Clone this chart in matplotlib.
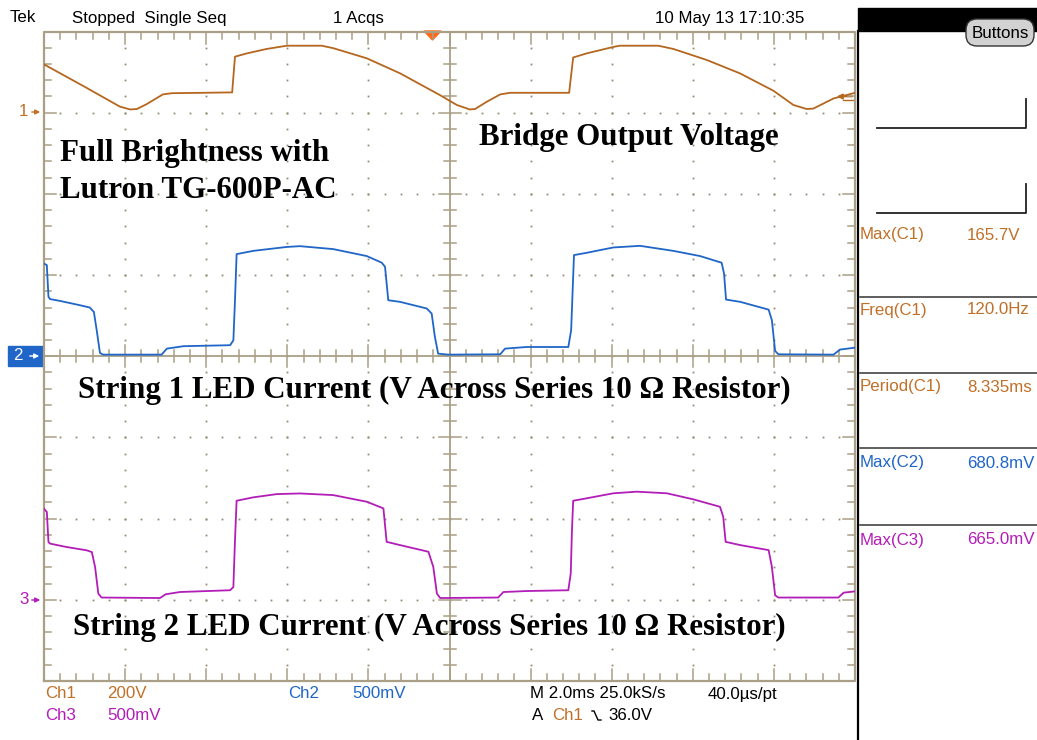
import matplotlib
matplotlib.use("Agg")
import matplotlib.pyplot as plt
from matplotlib.patches import Rectangle, Polygon, FancyBboxPatch
import numpy as np

# ---------------- data (read from the scope capture) ----------------
# time axis: 2.0 ms/div, 10 divisions -> 0..20 ms
ch1_t = [0.0, 1.0, 1.87, 2.12, 2.29, 2.53, 2.93, 3.15, 4.64, 4.71, 5.00, 5.49, 5.99, 6.85, 7.13,
         7.96, 8.78, 9.77, 10.18, 10.50, 10.63, 10.92, 11.25, 11.49, 12.95, 13.05, 13.38, 14.04,
         14.20, 15.15, 15.52, 16.34, 17.16, 17.99, 18.48, 18.81, 18.97, 19.47, 20.0]
ch1_v = [119, 64, 15, 8, 9, 21, 45, 48, 50, 138, 146, 157, 165, 165, 159,
         134, 97, 43, 19, 8, 9, 27, 45, 49, 49, 136, 146, 162,
         165, 165, 157, 130, 97, 54, 19, 9, 10, 35, 49]   # volts, 200 V/div

ch2_t = [0.0, 0.07, 0.11, 0.15, 0.39, 0.89, 1.13, 1.23, 1.30, 1.38, 1.46, 2.90, 3.03, 3.44, 4.59,
         4.67, 4.71, 4.75, 5.16, 5.98, 6.31, 7.13, 7.96, 8.33, 8.41, 8.49, 8.78, 9.44, 9.56, 9.64,
         9.72, 9.97, 11.25, 11.37, 11.90, 12.93, 13.00, 13.04, 13.07, 13.38, 14.04, 14.70, 15.52,
         16.18, 16.71, 16.77, 16.82, 17.17, 17.87, 17.95, 18.03, 18.11, 19.47, 19.63, 20.0]
ch2_mv = [571, 561, 366, 352, 341, 314, 300, 273, 160, 20, 10, 10, 47, 62, 68,
          98, 345, 629, 649, 673, 678, 660, 617, 576, 551, 345, 335, 294, 263, 119,
          16, 10, 12, 47, 57, 57, 160, 427, 623, 637, 670, 680, 649,
          617, 576, 510, 349, 335, 287, 222, 33, 12, 10, 41, 53]   # mV, 500 mV/div

ch3_t = [0.0, 0.07, 0.11, 0.15, 0.56, 1.05, 1.18, 1.26, 1.34, 1.42, 2.86, 3.00, 3.35, 4.59,
         4.67, 4.71, 4.75, 5.16, 5.74, 6.31, 7.13, 7.96, 8.37, 8.45, 8.78, 9.48, 9.60, 9.69,
         9.77, 11.20, 11.33, 11.90, 12.93, 12.99, 13.02, 13.05, 13.38, 14.04, 14.62, 15.36,
         16.01, 16.67, 16.75, 16.81, 17.17, 17.87, 17.95, 18.03, 18.11, 19.59, 19.72, 20.0]
ch3_mv = [561, 541, 356, 346, 325, 305, 294, 202, 38, 14, 11, 34, 48, 59,
          79, 367, 610, 631, 651, 655, 645, 604, 563, 357, 337, 296, 203, 38,
          11, 14, 48, 54, 59, 162, 429, 610, 625, 656, 666, 656,
          619, 573, 512, 357, 337, 306, 203, 28, 14, 14, 44, 52]   # mV, 500 mV/div

ch_scale = [200.0, 500.0, 500.0]     # units per division
ch_offset = [3.0, 0.0, -3.0]         # ground marker position in divisions

header_texts = ["Tek", "Stopped  Single Seq", "1 Acqs", "10 May 13 17:10:35"]
meas_names = ["Max(C1)", "Freq(C1)", "Period(C1)", "Max(C2)", "Max(C3)"]
meas_values = ["165.7V", "120.0Hz", "8.335ms", "680.8mV", "665.0mV"]

# ---------------- styling ----------------
W, H = 1037, 740
C1 = "#b5661f"
C1T = "#c07028"
C2 = "#1f66c8"
C3 = "#b21db8"
GRID = "#a99f86"
DOT = "#958b74"

fig = plt.figure(figsize=(W / 100, H / 100), dpi=100)
fig.patch.set_facecolor("white")

# background / pixel-space axes for the instrument frame
bg = fig.add_axes([0, 0, 1, 1], zorder=0)
bg.set_xlim(0, W)
bg.set_ylim(H, 0)
bg.axis("off")

# graticule axes
L, R, T, B = 44, 855, 31.5, 681
ax = fig.add_axes([L / W, 1 - B / H, (R - L) / W, (B - T) / H], zorder=1)
ax.set_xlim(0, 20)
ax.set_ylim(-4, 4)
ax.patch.set_alpha(0)
for s in ax.spines.values():
    s.set_visible(False)
ax.set_xticks([])
ax.set_yticks([])

px_x = 20 / (R - L)   # ms per pixel
px_y = 8 / (B - T)    # div per pixel

# dotted grid lines
for gx in np.arange(2, 20, 2):
    if abs(gx - 10) < 1e-6:
        continue
    ys = np.arange(-4 + 0.2, 4 - 0.1, 0.2)
    ax.plot(np.full_like(ys, gx), ys, ls="none", marker="s", ms=1.3, color=DOT, mew=0)
for gy in range(-3, 4):
    if gy == 0:
        continue
    xs = np.arange(0.4, 20 - 0.1, 0.4)
    ax.plot(xs, np.full_like(xs, gy), ls="none", marker="s", ms=1.3, color=DOT, mew=0)

# border
ax.plot([0, 20, 20, 0, 0], [-4, -4, 4, 4, -4], color=GRID, lw=1.6, clip_on=False)
# center lines
ax.plot([10, 10], [-4, 4], color=GRID, lw=1.3)
ax.plot([0, 20], [0, 0], color=GRID, lw=1.3)

# ticks on border and center lines
for xv in np.arange(0.4, 20 - 0.1, 0.4):
    major = abs(xv / 2 - round(xv / 2)) < 1e-6
    ln = (12 if major else 7) * px_y
    ax.plot([xv, xv], [4, 4 - ln], color=GRID, lw=1.1)
    ax.plot([xv, xv], [-4, -4 + ln], color=GRID, lw=1.1)
    cl = (11 if major else 6) * px_y
    ax.plot([xv, xv], [-cl, cl], color=GRID, lw=1.1)
for yv in np.arange(-4 + 0.2, 4 - 0.1, 0.2):
    major = abs(yv - round(yv)) < 1e-6
    ln = (12 if major else 7) * px_x
    ax.plot([0, ln], [yv, yv], color=GRID, lw=1.1)
    ax.plot([20, 20 - ln], [yv, yv], color=GRID, lw=1.1)
    cl = (11 if major else 6) * px_x
    ax.plot([10 - cl, 10 + cl], [yv, yv], color=GRID, lw=1.1)

# traces
ax.plot(ch1_t, np.array(ch1_v) / ch_scale[0] + ch_offset[0], color=C1, lw=1.3, zorder=5)
ax.plot(ch2_t, np.array(ch2_mv) / ch_scale[1] + ch_offset[1], color=C2, lw=1.3, zorder=5)
ax.plot(ch3_t, np.array(ch3_mv) / ch_scale[2] + ch_offset[2], color=C3, lw=1.3, zorder=5)

# ---------------- instrument frame (pixel space) ----------------
FONT = "Liberation Sans"
fs = 12.2
bg.text(10, 18, header_texts[0], fontsize=fs, family=FONT, va="center")
bg.text(72, 18, header_texts[1], fontsize=fs, family=FONT, va="center")
bg.text(333, 18, header_texts[2], fontsize=fs, family=FONT, va="center")
bg.text(655, 18, header_texts[3], fontsize=fs, family=FONT, va="center")

# trigger position marker
bg.add_patch(Polygon([(424, 31), (441, 31), (432.5, 40)], closed=True, color="#ff6a1a", zorder=6))

# channel ground markers
bg.text(19, 112, "1", fontsize=fs, family=FONT, va="center", color=C1T)
bg.annotate("", xy=(43, 112), xytext=(29, 112),
            arrowprops=dict(arrowstyle="-|>", color=C1T, lw=1, mutation_scale=7))
bg.add_patch(Rectangle((8, 346), 35, 20, color=C2))
bg.text(13, 356, "2", fontsize=fs, family=FONT, va="center", color="white")
bg.annotate("", xy=(42, 356), xytext=(27, 356),
            arrowprops=dict(arrowstyle="-|>", color="white", lw=1, mutation_scale=7))
bg.text(19, 600, "3", fontsize=fs, family=FONT, va="center", color=C3)
bg.annotate("", xy=(43, 600), xytext=(29, 600),
            arrowprops=dict(arrowstyle="-|>", color=C3, lw=1, mutation_scale=7))

# trigger level marker on right edge
bg.annotate("", xy=(834, 96.5), xytext=(855, 96.5),
            arrowprops=dict(arrowstyle="-|>", color=C1, lw=1.2, mutation_scale=8), zorder=6)
bg.plot([843, 855], [99.5, 99.5], color=C1, lw=1, zorder=6)

# bottom readout
bg.text(45, 694, "Ch1", fontsize=fs, family=FONT, va="center", color=C1T)
bg.text(107, 694, "200V", fontsize=fs, family=FONT, va="center", color=C1T)
bg.text(288, 694, "Ch2", fontsize=fs, family=FONT, va="center", color=C2)
bg.text(352, 694, "500mV", fontsize=fs, family=FONT, va="center", color=C2)
bg.text(45, 716, "Ch3", fontsize=fs, family=FONT, va="center", color=C3)
bg.text(107, 716, "500mV", fontsize=fs, family=FONT, va="center", color=C3)
bg.text(530, 694, "M 2.0ms 25.0kS/s", fontsize=fs, family=FONT, va="center")
bg.text(708, 694, "40.0\u00b5s/pt", fontsize=fs, family=FONT, va="center")
bg.text(532, 716, "A", fontsize=fs, family=FONT, va="center")
bg.text(552, 716, "Ch1", fontsize=fs, family=FONT, va="center", color=C1T)
bg.plot([592, 594, 598, 601], [711, 711, 720, 720], color="black", lw=1)
bg.text(608, 716, "36.0V", fontsize=fs, family=FONT, va="center")

# right panel
bg.add_patch(Rectangle((858, 8), W - 858, 23, color="black"))
bg.plot([858, 858], [31, H], color="black", lw=1.6)
bg.add_patch(FancyBboxPatch((968, 21), 64, 23, boxstyle="round,pad=2,rounding_size=11",
                            facecolor="#d2d2d2", edgecolor="#333333", lw=1))
bg.text(1000, 33, "Buttons", fontsize=fs, family=FONT, va="center", ha="center")
bg.plot([877, 1026, 1026], [128, 128, 99], color="#222222", lw=1.3)
bg.plot([877, 1026, 1026], [213, 213, 184], color="#222222", lw=1.3)

meas_y = [235, 310, 387, 463, 540]
meas_col = [C1T, C1T, C1T, C2, C3]
for i in range(len(meas_names)):
    bg.text(860, meas_y[i], meas_names[i], fontsize=fs, family=FONT, va="center", color=meas_col[i])
    bg.text(967, meas_y[i], meas_values[i], fontsize=fs, family=FONT, va="center", color=meas_col[i])
for sy in [297, 373, 448, 525]:
    bg.plot([860, W], [sy, sy], color="#333333", lw=1.1)

# ---------------- overlay annotations ----------------
SER = "Liberation Serif"
afs = 22.3
fig.text(60 / W, 1 - 153 / H, "Full Brightness with", fontsize=afs, family=SER,
         weight="bold", va="center", zorder=10)
fig.text(60 / W, 1 - 190 / H, "Lutron TG-600P-AC", fontsize=afs, family=SER,
         weight="bold", va="center", zorder=10)
fig.text(479 / W, 1 - 137 / H, "Bridge Output Voltage", fontsize=afs, family=SER,
         weight="bold", va="center", zorder=10)
fig.text(78 / W, 1 - 390 / H, "String 1 LED Current (V Across Series 10 \u03a9 Resistor)",
         fontsize=afs, family=SER, weight="bold", va="center", zorder=10)
fig.text(73 / W, 1 - 627 / H, "String 2 LED Current (V Across Series 10 \u03a9 Resistor)",
         fontsize=afs, family=SER, weight="bold", va="center", zorder=10)

fig.savefig("out.png", dpi=100)
